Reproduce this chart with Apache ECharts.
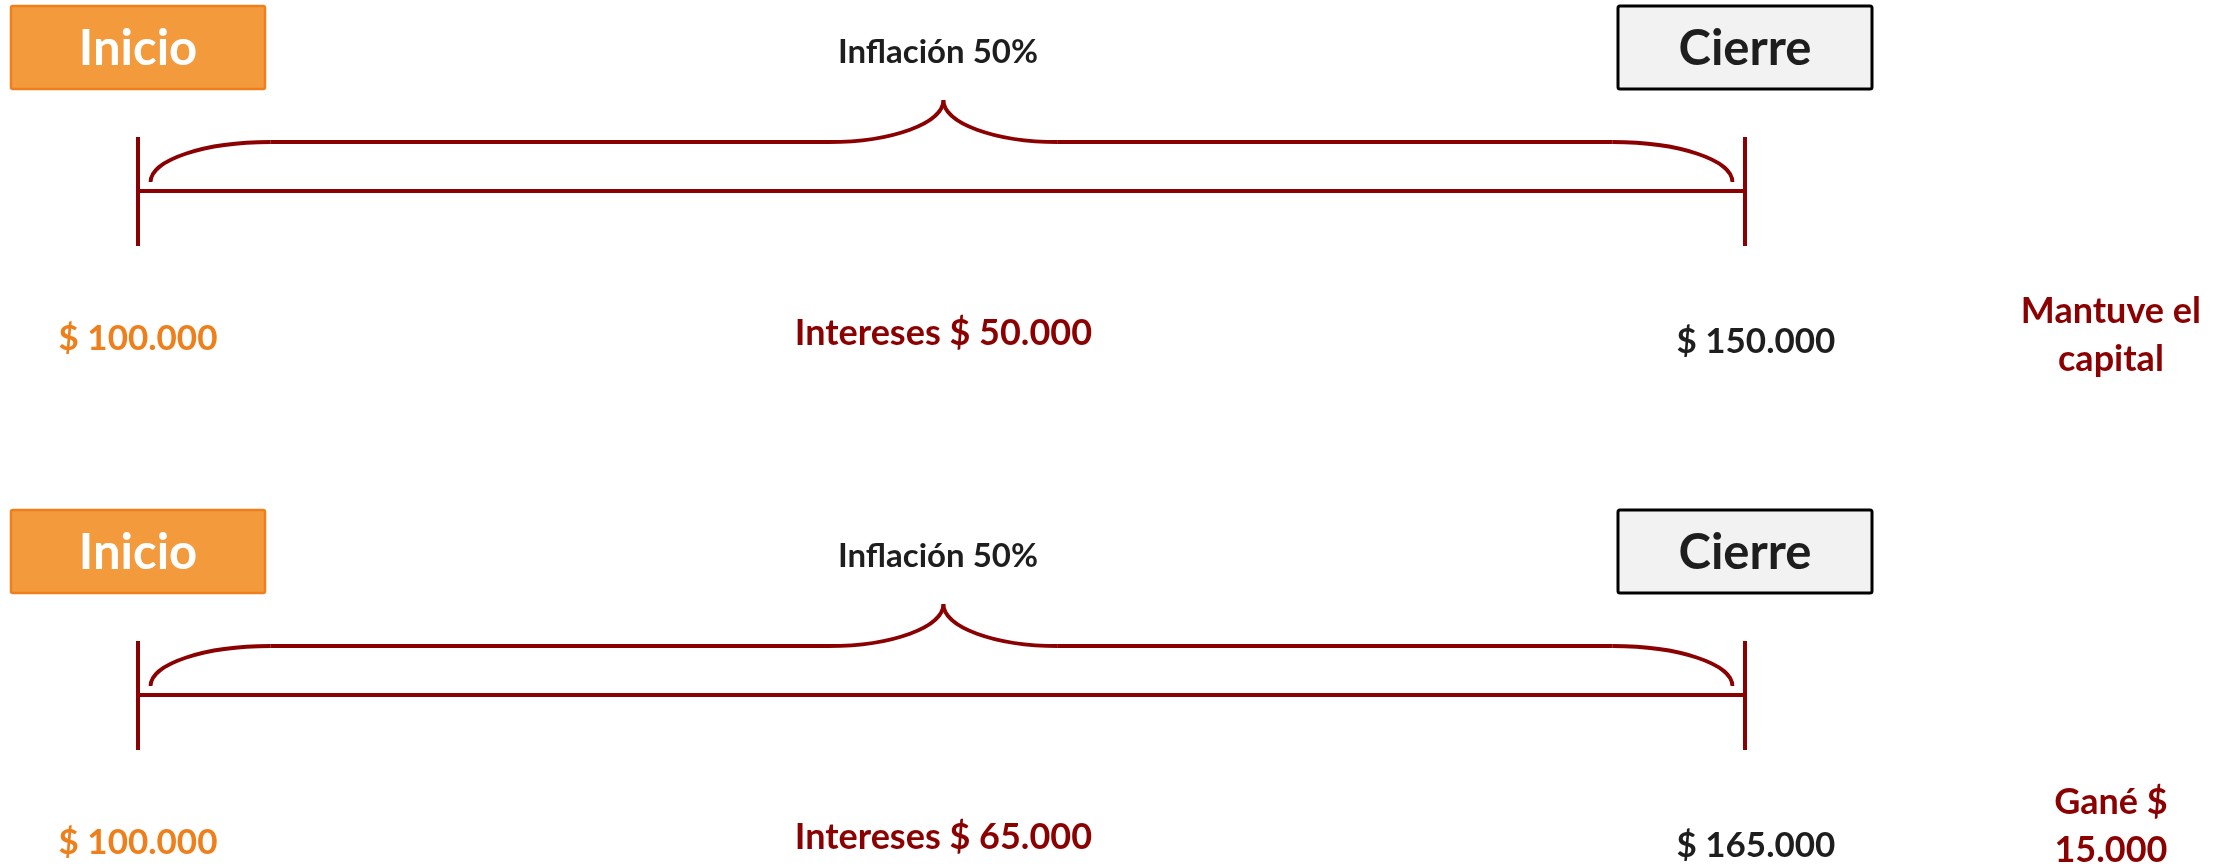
<!DOCTYPE html>
<html><head><meta charset="utf-8">
<script src="https://cdn.jsdelivr.net/npm/echarts/dist/echarts.min.js"></script>
<style>html,body{margin:0;padding:0;background:#fff}#c{width:2231px;height:867px}</style>
</head><body><div id="c"></div>
<script>
// ---- data ----
const escenarios = ['Escenario 1', 'Escenario 2'];
const etapas = ['Inicio', 'Cierre'];
const capitalInicial = [100000, 100000];
const intereses = [50000, 65000];
const capitalFinal = [150000, 165000];
const inflacion = [50, 50];
const resultados = ['Mantuve el\ncapital', 'Gané $\n15.000'];

// ---- style / layout ----
const FONT = 'Lato, "Open Sans", sans-serif';
const RED = '#8B0000', ORANGE = '#EE7F1A', INK = '#1E1E1E';
const PANEL_TOP = [0, 504], PANEL_H = 360;
const X0 = 138, X1 = 1745;
const LY = { boxC: 47.5, boxH: 83, infl: 52, peak: 100, flat: 142, tip: 182, line: 191, tickT: 137, tickB: 246,
             ini: 339, interes: 333, fin: 342, result: [335, 322] };
const LX = { mid: 0.5012, inset: 0.0078, endC: 0.0745, midC: 0.0712, result: 1.2277, fin: 1.0068, infl: 0.4978 };
const BOX_W = 254, K = 0.5523;

const fmt = n => '$ ' + String(n).replace(/\B(?=(\d{3})+(?!\d))/g, '.');

function render(i) {
  return function (params, api) {
    const P = (x, y) => api.coord([x, y]);
    const kids = [];
    const seg = (a, b, w) => ({ type: 'line', shape: { x1: a[0], y1: a[1], x2: b[0], y2: b[1] }, style: { stroke: RED, lineWidth: w } });
    const bez = (a, c1, c2, b) => ({ type: 'bezierCurve', shape: { x1: a[0], y1: a[1], cpx1: c1[0], cpy1: c1[1], cpx2: c2[0], cpy2: c2[1], x2: b[0], y2: b[1] }, style: { stroke: RED, lineWidth: 3.8, fill: null } });
    const txt = (p, t, size, color, lh) => ({ type: 'text', x: p[0], y: p[1], style: { text: t, fill: color, font: 'bold ' + size + 'px ' + FONT, align: 'center', verticalAlign: 'middle', lineHeight: lh || size * 1.2 } });
    const Lx = LX.inset, Rx = 1 - LX.inset, e = LX.endC, m = LX.mid, c = LX.midC;
    const f = LY.flat, t = LY.tip, pk = LY.peak;
    // brace
    kids.push(bez(P(Lx, t), P(Lx, t - K * (t - f)), P(Lx + e - K * e, f), P(Lx + e, f)));
    kids.push(seg(P(Lx + e, f), P(m - c, f), 3.8));
    kids.push(bez(P(m - c, f), P(m - c + K * c, f), P(m, pk + K * (f - pk)), P(m, pk)));
    kids.push(bez(P(m, pk), P(m, pk + K * (f - pk)), P(m + c - K * c, f), P(m + c, f)));
    kids.push(seg(P(m + c, f), P(Rx - e, f), 3.8));
    kids.push(bez(P(Rx - e, f), P(Rx - e + K * e, f), P(Rx, t - K * (t - f)), P(Rx, t)));
    // timeline
    kids.push(seg(P(0, LY.line), P(1, LY.line), 3.8));
    kids.push(seg(P(0, LY.tickT), P(0, LY.tickB), 4));
    kids.push(seg(P(1, LY.tickT), P(1, LY.tickB), 4));
    // boxes
    const b0 = P(0, LY.boxC), b1 = P(1, LY.boxC);
    kids.push({ type: 'rect', shape: { x: b0[0] - BOX_W / 2, y: b0[1] - LY.boxH / 2, width: BOX_W, height: LY.boxH, r: 2 }, style: { fill: '#F39A3D', stroke: '#EE7F1C', lineWidth: 2.5 } });
    kids.push({ type: 'rect', shape: { x: b1[0] - BOX_W / 2, y: b1[1] - LY.boxH / 2, width: BOX_W, height: LY.boxH, r: 2 }, style: { fill: '#F2F2F2', stroke: '#000', lineWidth: 3 } });
    kids.push(txt(P(0, LY.boxC + 2), etapas[0], 49, '#FFFFFF'));
    kids.push(txt(P(1, LY.boxC + 2), etapas[1], 49, INK));
    // texts
    kids.push(txt(P(LX.infl, LY.infl), 'Inflación ' + inflacion[i] + '%', 33, INK));
    kids.push(txt(P(0, LY.ini), fmt(capitalInicial[i]), 35, ORANGE));
    kids.push(txt(P(m, LY.interes), 'Intereses ' + fmt(intereses[i]), 36, RED));
    kids.push(txt(P(LX.fin, LY.fin), fmt(capitalFinal[i]), 35, INK));
    kids.push(txt(P(LX.result, LY.result[i]), resultados[i], 36, RED, 48));
    return { type: 'group', children: kids };
  };
}

const grids = [], xAxes = [], yAxes = [], series = [];
escenarios.forEach((name, i) => {
  grids.push({ left: X0, right: 2231 - X1, top: PANEL_TOP[i], height: PANEL_H });
  xAxes.push({ type: 'value', gridIndex: i, min: 0, max: 1, show: false });
  yAxes.push({ type: 'value', gridIndex: i, min: 0, max: PANEL_H, inverse: true, show: false });
  series.push({ type: 'custom', name, xAxisIndex: i, yAxisIndex: i, clip: false, silent: true,
    renderItem: render(i), data: [[0, 0]] });
});

const chart = echarts.init(document.getElementById('c'), null, { renderer: 'canvas' });
chart.setOption({ animation: false, backgroundColor: '#fff', grid: grids, xAxis: xAxes, yAxis: yAxes, series });
</script></body></html>
